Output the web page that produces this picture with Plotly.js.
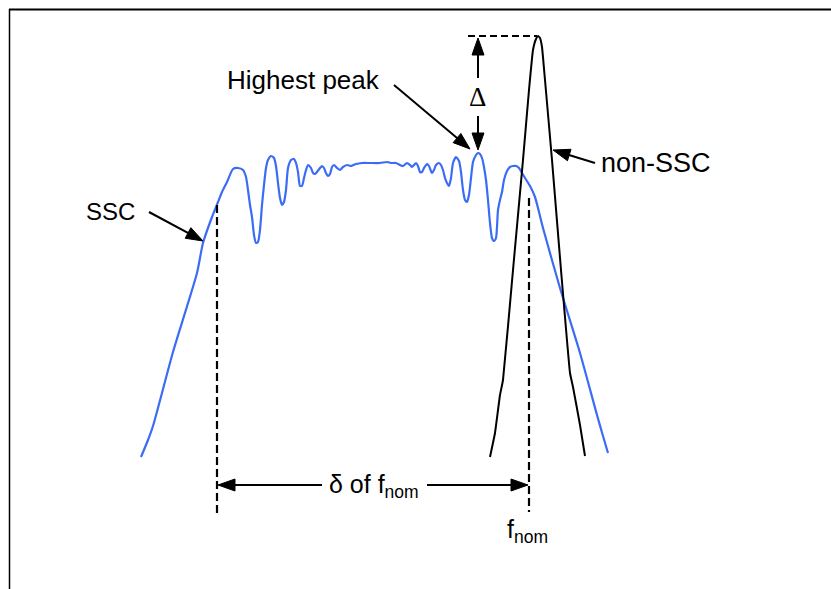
<!DOCTYPE html>
<html>
<head>
<meta charset="utf-8">
<script src="https://cdn.plot.ly/plotly-3.0.1.min.js"></script>
<style>html,body{margin:0;padding:0;background:#fff;}#chart{width:831px;height:589px;}</style>
</head>
<body>
<div id="chart"></div>
<script>
const sscFreq = [141,148,153,173,197,203,212,218,222,227,233,238,243,246,248,250,252,254,256,258,260,262,264,266,268,271,274,276,278,280,282,284,286,288,291,294,296,298,300,302,304,306,308,311,313,315,317,320,322,324,326,328,330,332,334,337,340,343,347,351,356,362,370,380,387,391,396,400,403,407,410,412,414,416,418,420,422,424,427,429,432,434,436,439,441,443,445,447,449,451,453,456,459,461,463,465,467,469,471,473,476,478,480,482,484,486,488,490,492,494,496,497,498,500,502,504,507,510,513,516,519,522,525,530,535,538,543,560,580,597,603,608];
const sscLevel = [457,440,426,352,273,243,217,202,192,182,169,168,170,177,190,205,217,235,243,242,230,205,185,168,160,156,158,166,183,198,205,202,190,168,160,159,163,172,186,186,178,170,165,168,173,174,172,168,166,168,173,176,174,167,165,168,170,167,165,166,164,163,163,163,162,163,163,165,166,163,165,167,165,163,166,172,172,168,164,166,173,170,165,163,165,170,178,183,186,178,163,157,161,172,190,200,202,195,178,162,155,153,154,158,167,180,200,223,238,241,238,227,210,200,192,180,171,167,166,166,168,173,178,186,197,208,228,288,353,415,436,453];
// Non-SSC spectrum
const refFreq = [490,495,500,503,513,523,529,533,536,538,540,542,545,552,561,570,573,580,585];
const refLevel = [457,433,395,380,270,160,90,50,39,36,38,47,80,160,270,373,387,425,456];
// Markers on the frequency axis
const fLow = 217;       // lower edge of SSC band
const fNom = 529;       // nominal frequency
const peakRef = 36;     // non-SSC peak level
const labels = {ssc:'SSC', nonSsc:'non-SSC', peak:'Highest peak', delta:'\u0394', dfn:'\u03b4 of f<sub>nom</sub>', fnom:'f<sub>nom</sub>'};

const shapes = [];
const annotations = [];
function arrow(x0, y0, x1, y1) {
  const dx = x1 - x0, dy = y1 - y0, L = Math.hypot(dx, dy);
  const ux = dx / L, uy = dy / L, hl = 17, hw = 6;
  const bx = x1 - ux * hl, by = y1 - uy * hl, px = -uy, py = ux;
  shapes.push({type:'line', xref:'x', yref:'y', x0:x0, y0:y0, x1:bx + ux * 2, y1:by + uy * 2, line:{color:'#000', width:2}});
  shapes.push({type:'path', xref:'x', yref:'y',
    path:'M' + x1 + ',' + y1 + ' L' + (bx + px * hw) + ',' + (by + py * hw) + ' L' + (bx - px * hw) + ',' + (by - py * hw) + ' Z',
    fillcolor:'#000', line:{color:'#000', width:1}});
}
// frame
shapes.push({type:'line', xref:'paper', yref:'paper', x0:9/831, x1:1.01, y0:1 - 9.5/589, y1:1 - 9.5/589, line:{color:'#000', width:2}});
shapes.push({type:'line', xref:'paper', yref:'paper', x0:9.5/831, x1:9.5/831, y0:1 - 9/589, y1:-0.01, line:{color:'#000', width:1.5}});
// dashed guides
shapes.push({type:'line', xref:'x', yref:'y', x0:fLow, x1:fLow, y0:205, y1:513, line:{color:'#000', width:2.2, dash:'8px,4px'}});
shapes.push({type:'line', xref:'x', yref:'y', x0:fNom, x1:fNom, y0:198, y1:512, line:{color:'#000', width:2.2, dash:'8px,4px'}});
shapes.push({type:'line', xref:'x', yref:'y', x0:468, x1:537, y0:peakRef, y1:peakRef, line:{color:'#000', width:2, dash:'7px,4px'}});
// arrows
arrow(149, 212, 203, 241);
arrow(394, 85, 470, 149);
arrow(478, 78, 478, 38);
arrow(478, 116, 478, 150);
arrow(595, 163, 553, 150);
arrow(322, 485, 218, 485);
arrow(427, 485, 528, 485);

const font = {family:'Liberation Sans, Arial, sans-serif', color:'#000', size:24};
function label(t, x, y, size, fam) {
  annotations.push({text:t, x:x, y:y, xref:'x', yref:'y', showarrow:false, xanchor:'center', yanchor:'middle',
    font:Object.assign({}, font, {size:size}, fam ? {family:fam} : {})});
}
label(labels.peak, 303, 80, 26);
label(labels.ssc, 110, 211, 24);
label(labels.nonSsc, 656, 163, 27);
label(labels.delta, 477, 97, 27, 'Liberation Serif, serif');
label(labels.dfn, 374, 486, 25);
label(labels.fnom, 527, 531, 25);

const traces = [
  {x:sscFreq, y:sscLevel, mode:'lines', line:{color:'#3c6cf5', width:2.2, shape:'spline', smoothing:0.6}, hoverinfo:'skip'},
  {x:refFreq, y:refLevel, mode:'lines', line:{color:'#000', width:2, shape:'spline', smoothing:0.3}, hoverinfo:'skip'}
];
const layout = {
  width:831, height:589, margin:{l:0, r:0, t:0, b:0},
  paper_bgcolor:'#fff', plot_bgcolor:'#fff', showlegend:false,
  xaxis:{range:[0, 831], visible:false, fixedrange:true},
  yaxis:{range:[589, 0], visible:false, fixedrange:true},
  shapes:shapes, annotations:annotations
};
Plotly.newPlot('chart', traces, layout, {staticPlot:true, displayModeBar:false});
</script>
</body>
</html>
